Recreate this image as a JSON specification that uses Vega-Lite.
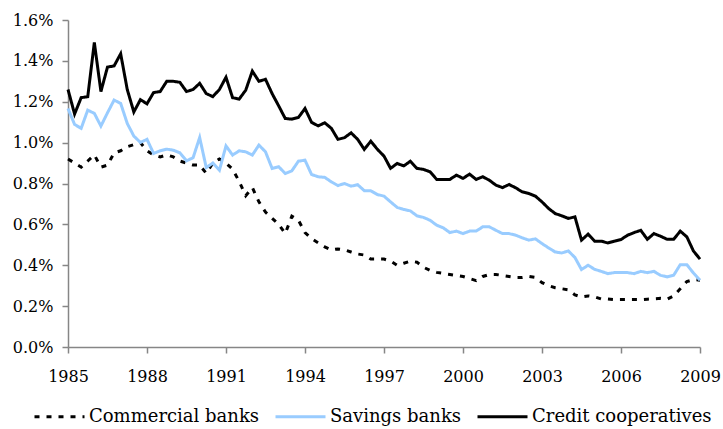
{
  "$schema": "https://vega.github.io/schema/vega-lite/v6.json",
  "width": 632,
  "height": 327,
  "autosize": {"type": "none"},
  "padding": {"left": 68, "top": 20, "right": 23, "bottom": 82},
  "background": "white",
  "config": {
    "view": {"stroke": null},
    "font": "DejaVu Serif",
    "axis": {
      "domainColor": "#868686",
      "domainWidth": 1.5,
      "tickColor": "#868686",
      "tickWidth": 1.5,
      "tickSize": 6,
      "labelFontSize": 16,
      "labelColor": "#000000",
      "labelFont": "DejaVu Serif",
      "grid": false,
      "title": null
    },
    "legend": {
      "labelFont": "DejaVu Serif",
      "labelFontSize": 18,
      "labelColor": "#000000",
      "labelLimit": 400
    }
  },
  "data": {
    "values": [
      {"t":1985.00,"Commercial banks":0.92,"Savings banks":1.167,"Credit cooperatives":1.26},
      {"t":1985.25,"Commercial banks":0.90,"Savings banks":1.089,"Credit cooperatives":1.14},
      {"t":1985.50,"Commercial banks":0.88,"Savings banks":1.07,"Credit cooperatives":1.22},
      {"t":1985.75,"Commercial banks":0.91,"Savings banks":1.159,"Credit cooperatives":1.225},
      {"t":1986.00,"Commercial banks":0.94,"Savings banks":1.143,"Credit cooperatives":1.49},
      {"t":1986.25,"Commercial banks":0.88,"Savings banks":1.081,"Credit cooperatives":1.25},
      {"t":1986.50,"Commercial banks":0.89,"Savings banks":1.146,"Credit cooperatives":1.37},
      {"t":1986.75,"Commercial banks":0.95,"Savings banks":1.208,"Credit cooperatives":1.375},
      {"t":1987.00,"Commercial banks":0.96,"Savings banks":1.192,"Credit cooperatives":1.435},
      {"t":1987.25,"Commercial banks":0.98,"Savings banks":1.094,"Credit cooperatives":1.26},
      {"t":1987.50,"Commercial banks":0.99,"Savings banks":1.032,"Credit cooperatives":1.15},
      {"t":1987.75,"Commercial banks":1.00,"Savings banks":1.001,"Credit cooperatives":1.21},
      {"t":1988.00,"Commercial banks":0.96,"Savings banks":1.016,"Credit cooperatives":1.19},
      {"t":1988.25,"Commercial banks":0.94,"Savings banks":0.947,"Credit cooperatives":1.245},
      {"t":1988.50,"Commercial banks":0.93,"Savings banks":0.96,"Credit cooperatives":1.25},
      {"t":1988.75,"Commercial banks":0.94,"Savings banks":0.968,"Credit cooperatives":1.30},
      {"t":1989.00,"Commercial banks":0.93,"Savings banks":0.963,"Credit cooperatives":1.30},
      {"t":1989.25,"Commercial banks":0.91,"Savings banks":0.95,"Credit cooperatives":1.295},
      {"t":1989.50,"Commercial banks":0.90,"Savings banks":0.911,"Credit cooperatives":1.25},
      {"t":1989.75,"Commercial banks":0.89,"Savings banks":0.926,"Credit cooperatives":1.26},
      {"t":1990.00,"Commercial banks":0.89,"Savings banks":1.025,"Credit cooperatives":1.29},
      {"t":1990.25,"Commercial banks":0.85,"Savings banks":0.878,"Credit cooperatives":1.24},
      {"t":1990.50,"Commercial banks":0.90,"Savings banks":0.90,"Credit cooperatives":1.225},
      {"t":1990.75,"Commercial banks":0.92,"Savings banks":0.865,"Credit cooperatives":1.26},
      {"t":1991.00,"Commercial banks":0.90,"Savings banks":0.984,"Credit cooperatives":1.32},
      {"t":1991.25,"Commercial banks":0.87,"Savings banks":0.939,"Credit cooperatives":1.22},
      {"t":1991.50,"Commercial banks":0.81,"Savings banks":0.96,"Credit cooperatives":1.213},
      {"t":1991.75,"Commercial banks":0.74,"Savings banks":0.955,"Credit cooperatives":1.257},
      {"t":1992.00,"Commercial banks":0.78,"Savings banks":0.939,"Credit cooperatives":1.35},
      {"t":1992.25,"Commercial banks":0.71,"Savings banks":0.988,"Credit cooperatives":1.30},
      {"t":1992.50,"Commercial banks":0.66,"Savings banks":0.955,"Credit cooperatives":1.31},
      {"t":1992.75,"Commercial banks":0.63,"Savings banks":0.874,"Credit cooperatives":1.24},
      {"t":1993.00,"Commercial banks":0.60,"Savings banks":0.882,"Credit cooperatives":1.18},
      {"t":1993.25,"Commercial banks":0.555,"Savings banks":0.849,"Credit cooperatives":1.118},
      {"t":1993.50,"Commercial banks":0.64,"Savings banks":0.862,"Credit cooperatives":1.115},
      {"t":1993.75,"Commercial banks":0.62,"Savings banks":0.909,"Credit cooperatives":1.123},
      {"t":1994.00,"Commercial banks":0.56,"Savings banks":0.914,"Credit cooperatives":1.167},
      {"t":1994.25,"Commercial banks":0.53,"Savings banks":0.844,"Credit cooperatives":1.099},
      {"t":1994.50,"Commercial banks":0.51,"Savings banks":0.833,"Credit cooperatives":1.082},
      {"t":1994.75,"Commercial banks":0.49,"Savings banks":0.83,"Credit cooperatives":1.097},
      {"t":1995.00,"Commercial banks":0.475,"Savings banks":0.808,"Credit cooperatives":1.07},
      {"t":1995.25,"Commercial banks":0.48,"Savings banks":0.79,"Credit cooperatives":1.016},
      {"t":1995.50,"Commercial banks":0.475,"Savings banks":0.80,"Credit cooperatives":1.024},
      {"t":1995.75,"Commercial banks":0.465,"Savings banks":0.787,"Credit cooperatives":1.048},
      {"t":1996.00,"Commercial banks":0.455,"Savings banks":0.794,"Credit cooperatives":1.016},
      {"t":1996.25,"Commercial banks":0.45,"Savings banks":0.765,"Credit cooperatives":0.967},
      {"t":1996.50,"Commercial banks":0.43,"Savings banks":0.764,"Credit cooperatives":1.007},
      {"t":1996.75,"Commercial banks":0.43,"Savings banks":0.746,"Credit cooperatives":0.967},
      {"t":1997.00,"Commercial banks":0.43,"Savings banks":0.738,"Credit cooperatives":0.934},
      {"t":1997.25,"Commercial banks":0.42,"Savings banks":0.71,"Credit cooperatives":0.874},
      {"t":1997.50,"Commercial banks":0.40,"Savings banks":0.683,"Credit cooperatives":0.898},
      {"t":1997.75,"Commercial banks":0.41,"Savings banks":0.673,"Credit cooperatives":0.886},
      {"t":1998.00,"Commercial banks":0.42,"Savings banks":0.666,"Credit cooperatives":0.909},
      {"t":1998.25,"Commercial banks":0.415,"Savings banks":0.642,"Credit cooperatives":0.874},
      {"t":1998.50,"Commercial banks":0.39,"Savings banks":0.634,"Credit cooperatives":0.869},
      {"t":1998.75,"Commercial banks":0.375,"Savings banks":0.62,"Credit cooperatives":0.857},
      {"t":1999.00,"Commercial banks":0.365,"Savings banks":0.596,"Credit cooperatives":0.82},
      {"t":1999.25,"Commercial banks":0.36,"Savings banks":0.583,"Credit cooperatives":0.82},
      {"t":1999.50,"Commercial banks":0.355,"Savings banks":0.56,"Credit cooperatives":0.82},
      {"t":1999.75,"Commercial banks":0.35,"Savings banks":0.567,"Credit cooperatives":0.841},
      {"t":2000.00,"Commercial banks":0.345,"Savings banks":0.555,"Credit cooperatives":0.825},
      {"t":2000.25,"Commercial banks":0.335,"Savings banks":0.567,"Credit cooperatives":0.846},
      {"t":2000.50,"Commercial banks":0.325,"Savings banks":0.567,"Credit cooperatives":0.82},
      {"t":2000.75,"Commercial banks":0.345,"Savings banks":0.588,"Credit cooperatives":0.833},
      {"t":2001.00,"Commercial banks":0.355,"Savings banks":0.588,"Credit cooperatives":0.816},
      {"t":2001.25,"Commercial banks":0.355,"Savings banks":0.571,"Credit cooperatives":0.792},
      {"t":2001.50,"Commercial banks":0.35,"Savings banks":0.555,"Credit cooperatives":0.78},
      {"t":2001.75,"Commercial banks":0.345,"Savings banks":0.555,"Credit cooperatives":0.795},
      {"t":2002.00,"Commercial banks":0.34,"Savings banks":0.547,"Credit cooperatives":0.779},
      {"t":2002.25,"Commercial banks":0.34,"Savings banks":0.534,"Credit cooperatives":0.759},
      {"t":2002.50,"Commercial banks":0.345,"Savings banks":0.523,"Credit cooperatives":0.751},
      {"t":2002.75,"Commercial banks":0.34,"Savings banks":0.529,"Credit cooperatives":0.738},
      {"t":2003.00,"Commercial banks":0.315,"Savings banks":0.506,"Credit cooperatives":0.71},
      {"t":2003.25,"Commercial banks":0.30,"Savings banks":0.485,"Credit cooperatives":0.678},
      {"t":2003.50,"Commercial banks":0.29,"Savings banks":0.465,"Credit cooperatives":0.653},
      {"t":2003.75,"Commercial banks":0.285,"Savings banks":0.46,"Credit cooperatives":0.642},
      {"t":2004.00,"Commercial banks":0.28,"Savings banks":0.47,"Credit cooperatives":0.629},
      {"t":2004.25,"Commercial banks":0.255,"Savings banks":0.438,"Credit cooperatives":0.637},
      {"t":2004.50,"Commercial banks":0.245,"Savings banks":0.379,"Credit cooperatives":0.523},
      {"t":2004.75,"Commercial banks":0.25,"Savings banks":0.40,"Credit cooperatives":0.552},
      {"t":2005.00,"Commercial banks":0.245,"Savings banks":0.38,"Credit cooperatives":0.518},
      {"t":2005.25,"Commercial banks":0.235,"Savings banks":0.37,"Credit cooperatives":0.518},
      {"t":2005.50,"Commercial banks":0.235,"Savings banks":0.359,"Credit cooperatives":0.509},
      {"t":2005.75,"Commercial banks":0.232,"Savings banks":0.364,"Credit cooperatives":0.518},
      {"t":2006.00,"Commercial banks":0.232,"Savings banks":0.364,"Credit cooperatives":0.526},
      {"t":2006.25,"Commercial banks":0.232,"Savings banks":0.364,"Credit cooperatives":0.547},
      {"t":2006.50,"Commercial banks":0.232,"Savings banks":0.359,"Credit cooperatives":0.56},
      {"t":2006.75,"Commercial banks":0.232,"Savings banks":0.37,"Credit cooperatives":0.571},
      {"t":2007.00,"Commercial banks":0.234,"Savings banks":0.364,"Credit cooperatives":0.527},
      {"t":2007.25,"Commercial banks":0.236,"Savings banks":0.37,"Credit cooperatives":0.555},
      {"t":2007.50,"Commercial banks":0.238,"Savings banks":0.351,"Credit cooperatives":0.542},
      {"t":2007.75,"Commercial banks":0.234,"Savings banks":0.343,"Credit cooperatives":0.527},
      {"t":2008.00,"Commercial banks":0.25,"Savings banks":0.351,"Credit cooperatives":0.527},
      {"t":2008.25,"Commercial banks":0.285,"Savings banks":0.403,"Credit cooperatives":0.567},
      {"t":2008.50,"Commercial banks":0.32,"Savings banks":0.403,"Credit cooperatives":0.539},
      {"t":2008.75,"Commercial banks":0.33,"Savings banks":0.362,"Credit cooperatives":0.47},
      {"t":2009.00,"Commercial banks":0.327,"Savings banks":0.327,"Credit cooperatives":0.43}
    ]
  },
  "transform": [
    {"fold": ["Commercial banks", "Savings banks", "Credit cooperatives"], "as": ["series", "value"]}
  ],
  "mark": {"type": "line", "strokeWidth": 3, "clip": false},
  "encoding": {
    "x": {
      "field": "t",
      "type": "quantitative",
      "scale": {"domain": [1985, 2009], "nice": false, "zero": false},
      "axis": {
        "values": [1985, 1988, 1991, 1994, 1997, 2000, 2003, 2006, 2009],
        "format": "d",
        "labelPadding": 15,
        "labelFlush": false,
        "labelOverlap": false
      }
    },
    "y": {
      "field": "value",
      "type": "quantitative",
      "scale": {"domain": [0, 1.6], "nice": false},
      "axis": {
        "values": [0, 0.2, 0.4, 0.6, 0.8, 1.0, 1.2, 1.4, 1.6],
        "labelExpr": "format(datum.value, '.1f') + '%'",
        "labelPadding": 9
      }
    },
    "color": {
      "field": "series",
      "type": "nominal",
      "scale": {
        "domain": ["Commercial banks", "Savings banks", "Credit cooperatives"],
        "range": ["#000000", "#99CCFF", "#000000"]
      },
      "legend": {
        "title": null,
        "orient": "none",
        "direction": "horizontal",
        "legendX": -35,
        "legendY": 370,
        "symbolType": "stroke",
        "symbolSize": 2500,
        "symbolStrokeWidth": 3,
        "labelOffset": 3,
        "labelLimit": 400,
        "columnPadding": 9,
        "padding": 0
      }
    },
    "strokeDash": {
      "field": "series",
      "type": "nominal",
      "scale": {
        "domain": ["Commercial banks", "Savings banks", "Credit cooperatives"],
        "range": [[5, 7], [1, 0], [1, 0]]
      },
      "legend": {
        "title": null,
        "orient": "none",
        "direction": "horizontal",
        "legendX": -35,
        "legendY": 370,
        "symbolType": "stroke",
        "symbolSize": 2500,
        "symbolStrokeWidth": 3,
        "labelOffset": 3,
        "labelLimit": 400,
        "columnPadding": 9,
        "padding": 0
      }
    }
  }
}
